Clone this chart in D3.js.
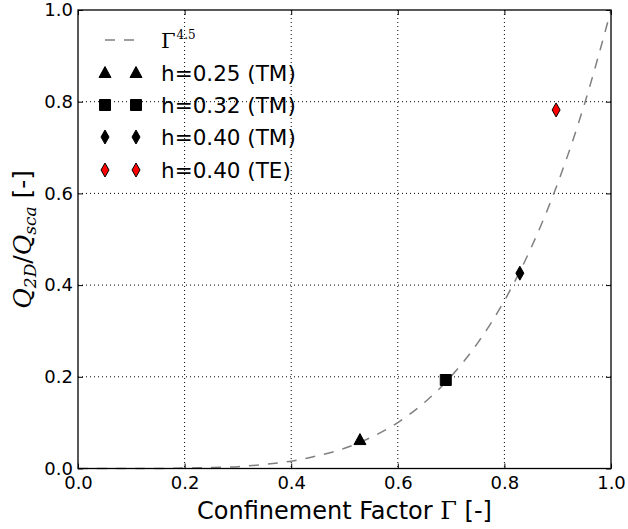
<!DOCTYPE html>
<html>
<head>
<meta charset="utf-8">
<script src="https://cdn.jsdelivr.net/npm/d3@7"></script>
<style>
  body { margin: 0; background: #fff; }
  svg { font-family: "DejaVu Sans", sans-serif; }
</style>
</head>
<body>
<svg id="body" width="628" height="529"></svg>
<script>
// fit curve Gamma^4.5, sampled
let curveGamma = [0, 0.05, 0.1, 0.15, 0.2, 0.25, 0.3, 0.35, 0.4, 0.45, 0.5, 0.55, 0.6, 0.65, 0.7, 0.75, 0.8, 0.85, 0.9, 0.95, 1.0];
let curveQ = [0, 0, 0, 0, 0.001, 0.002, 0.004, 0.009, 0.016, 0.028, 0.044, 0.068, 0.100, 0.144, 0.201, 0.274, 0.366, 0.481, 0.622, 0.794, 1.0];

// measured points
let seriesNames = ["h=0.25 (TM)", "h=0.32 (TM)", "h=0.40 (TM)", "h=0.40 (TE)"];
let seriesGamma = [0.529, 0.69, 0.829, 0.897];
let seriesQ = [0.062, 0.193, 0.426, 0.782];
let seriesShape = ["triangle", "square", "diamond", "diamond"];
let seriesColor = ["black", "black", "black", "red"];

let xTicks = [0, 0.2, 0.4, 0.6, 0.8, 1.0];
let yTicks = [0, 0.2, 0.4, 0.6, 0.8, 1.0];

let svg = d3.select("#body");
let pLeft = 78, pRight = 611, pTop = 10, pBottom = 468.5;

let x = d3.scaleLinear().domain([0, 1]).range([pLeft, pRight]);
let y = d3.scaleLinear().domain([0, 1]).range([pBottom, pTop]);

// grid
svg.append("g")
    .selectAll("line")
    .data(xTicks.slice(1, -1))
    .enter()
    .append("line")
    .attr("x1", d => x(d)).attr("x2", d => x(d))
    .attr("y1", pTop).attr("y2", pBottom)
    .attr("stroke", "black").attr("stroke-width", 1)
    .attr("stroke-dasharray", "1,3");

svg.append("g")
    .selectAll("line")
    .data(yTicks.slice(1, -1))
    .enter()
    .append("line")
    .attr("y1", d => y(d)).attr("y2", d => y(d))
    .attr("x1", pLeft).attr("x2", pRight)
    .attr("stroke", "black").attr("stroke-width", 1)
    .attr("stroke-dasharray", "1,3");

// axes with inward ticks
let xAxis = d3.axisBottom(x).tickValues(xTicks).tickFormat(d3.format(".1f")).tickSizeInner(-5).tickSizeOuter(0).tickPadding(8);
let yAxis = d3.axisLeft(y).tickValues(yTicks).tickFormat(d3.format(".1f")).tickSizeInner(-5).tickSizeOuter(0).tickPadding(5);
let xTop = d3.axisTop(x).tickValues(xTicks).tickFormat("").tickSizeInner(-5).tickSizeOuter(0);
let yRight = d3.axisRight(y).tickValues(yTicks).tickFormat("").tickSizeInner(-5).tickSizeOuter(0);

svg.append("g").attr("transform", `translate(0,${pBottom})`).call(xAxis);
svg.append("g").attr("transform", `translate(${pLeft},0)`).call(yAxis);
svg.append("g").attr("transform", `translate(0,${pTop})`).call(xTop);
svg.append("g").attr("transform", `translate(${pRight},0)`).call(yRight);

svg.selectAll(".domain").remove();
svg.selectAll(".tick line").attr("stroke", "black").attr("stroke-width", 1);
svg.selectAll(".tick text")
    .attr("font-size", 18)
    .attr("font-family", "DejaVu Sans")
    .attr("fill", "black");

// fit curve
let line = d3.line()
    .x((d, i) => x(curveGamma[i]))
    .y(d => y(d))
    .curve(d3.curveMonotoneX);

svg.append("path")
    .datum(curveQ)
    .attr("d", line)
    .attr("fill", "none")
    .attr("stroke", "#808080")
    .attr("stroke-width", 1.5)
    .attr("stroke-dasharray", "10,9");

// frame
svg.append("rect")
    .attr("x", pLeft).attr("y", pTop)
    .attr("width", pRight - pLeft).attr("height", pBottom - pTop)
    .attr("fill", "none").attr("stroke", "black").attr("stroke-width", 1.3);

function markerPath(shape) {
    if (shape == "triangle") return "M0,-6.5L6,4.5L-6,4.5Z";
    if (shape == "square") return "M-5.5,-5.5L5.5,-5.5L5.5,5.5L-5.5,5.5Z";
    return "M0,-7L4,0L0,7L-4,0Z";
}

svg.append("g")
    .selectAll("path")
    .data(seriesGamma)
    .enter()
    .append("path")
    .attr("d", (d, i) => markerPath(seriesShape[i]))
    .attr("transform", (d, i) => `translate(${x(d)},${y(seriesQ[i])})`)
    .attr("fill", (d, i) => seriesColor[i])
    .attr("stroke", "black")
    .attr("stroke-width", 1);

// legend
let legend = svg.append("g");
let rowY = [40, 73, 105, 137, 170];

legend.append("line")
    .attr("x1", 105).attr("x2", 134)
    .attr("y1", rowY[0]).attr("y2", rowY[0])
    .attr("stroke", "#808080").attr("stroke-width", 1.5)
    .attr("stroke-dasharray", "10,9");

legend.append("text")
    .attr("x", 161).attr("y", 48)
    .attr("font-family", "DejaVu Serif")
    .attr("font-size", 21)
    .text("Γ")
    .append("tspan")
    .attr("dy", -9)
    .attr("dx", 1)
    .attr("font-size", 12)
    .text("4.5");

seriesNames.forEach((name, i) => {
    [105, 136].forEach(mx => {
        legend.append("path")
            .attr("d", markerPath(seriesShape[i]))
            .attr("transform", `translate(${mx},${rowY[i + 1]})`)
            .attr("fill", seriesColor[i])
            .attr("stroke", "black")
            .attr("stroke-width", 1);
    });
    legend.append("text")
        .attr("x", 161).attr("y", rowY[i + 1] + 7.5)
        .attr("font-size", 21.5)
        .attr("fill", "black")
        .text(name);
});

// axis labels
let xl = svg.append("text")
    .attr("x", x(0.5)).attr("y", 519)
    .attr("text-anchor", "middle")
    .attr("font-size", 24);
xl.append("tspan").text("Confinement Factor ");
xl.append("tspan").attr("font-family", "DejaVu Serif").text("Γ");
xl.append("tspan").text(" [-]");

let yl = svg.append("text")
    .attr("transform", `translate(31,${(pTop + pBottom) / 2}) rotate(-90)`)
    .attr("text-anchor", "middle")
    .attr("font-size", 25);
yl.append("tspan").attr("font-family", "DejaVu Serif").attr("font-style", "italic").text("Q");
yl.append("tspan").attr("font-family", "DejaVu Serif").attr("font-style", "italic").attr("font-size", 17).attr("dy", 5).text("2D");
yl.append("tspan").attr("font-family", "DejaVu Serif").attr("dy", -5).text("/");
yl.append("tspan").attr("font-family", "DejaVu Serif").attr("font-style", "italic").text("Q");
yl.append("tspan").attr("font-family", "DejaVu Serif").attr("font-style", "italic").attr("font-size", 17).attr("dy", 5).text("sca");
yl.append("tspan").attr("dy", -5).text(" [-]");
</script>
</body>
</html>
